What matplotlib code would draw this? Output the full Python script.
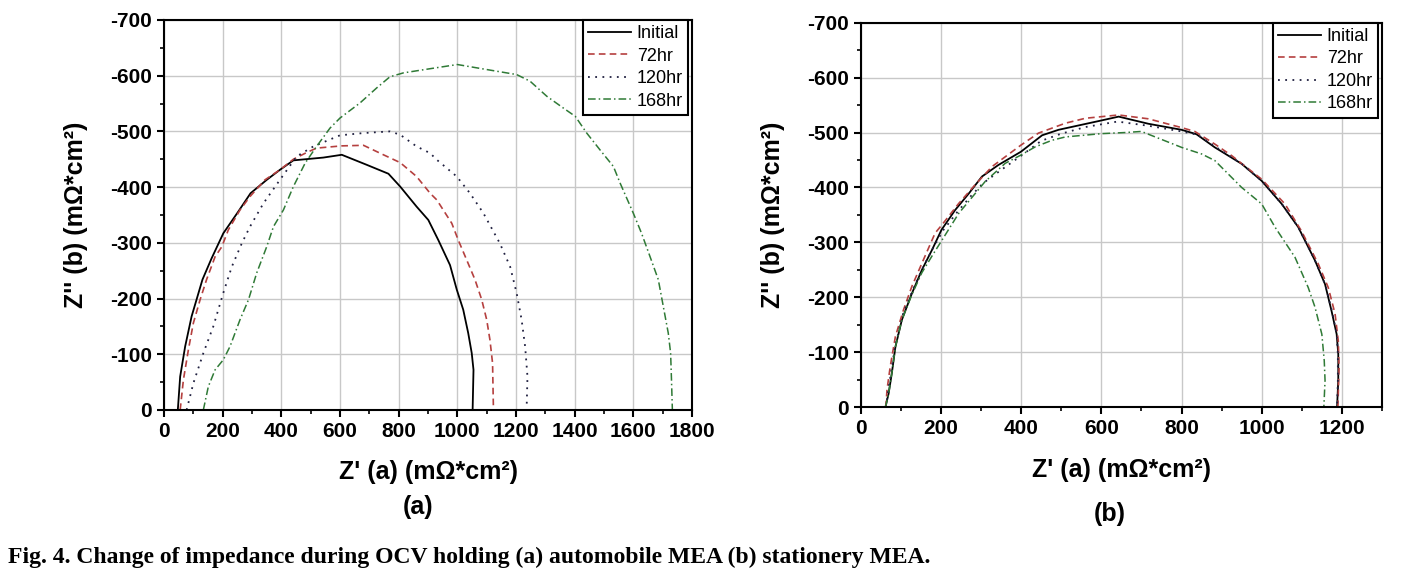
import matplotlib
matplotlib.use("Agg")
import matplotlib.pyplot as plt
from matplotlib.ticker import MultipleLocator

plt.rcParams["font.family"] = ["Liberation Sans", "DejaVu Sans"]
plt.rcParams["axes.unicode_minus"] = False

labels = ["Initial", "72hr", "120hr", "168hr"]

# (a) automobile MEA
a_init_x = [47, 55, 72, 94, 131, 162, 202, 253, 295, 350, 395, 441, 543, 606, 691, 765, 805, 861, 901, 935, 975, 998, 1020, 1037, 1049, 1055, 1052]
a_init_y = [0, -60, -114, -168, -234, -272, -317, -356, -389, -413, -431, -448, -453, -458, -440, -424, -401, -365, -341, -305, -260, -216, -180, -138, -102, -72, 0]
a_72_x = [55, 66, 83, 100, 123, 145, 174, 197, 219, 259, 293, 344, 395, 441, 486, 520, 606, 680, 748, 805, 861, 907, 930, 981, 1003, 1032, 1060, 1083, 1100, 1111, 1120, 1123]
a_72_y = [0, -54, -108, -156, -198, -234, -275, -293, -323, -359, -383, -413, -431, -450, -462, -470, -474, -475, -458, -444, -419, -389, -377, -335, -305, -269, -234, -198, -162, -126, -84, 0]
a_120_x = [77, 100, 134, 168, 202, 231, 265, 293, 339, 395, 452, 509, 600, 680, 770, 805, 861, 907, 930, 998, 1043, 1089, 1145, 1180, 1202, 1219, 1231, 1239, 1236]
a_120_y = [0, -48, -102, -150, -210, -257, -299, -329, -371, -413, -455, -473, -493, -497, -500, -494, -473, -461, -449, -419, -389, -353, -299, -257, -210, -162, -114, -60, 0]
a_168_x = [134, 151, 174, 202, 225, 259, 288, 316, 350, 373, 407, 441, 481, 520, 566, 600, 668, 725, 770, 816, 901, 1000, 1100, 1202, 1248, 1305, 1361, 1402, 1441, 1486, 1532, 1555, 1600, 1628, 1657, 1685, 1702, 1719, 1727, 1730, 1733]
a_168_y = [0, -42, -72, -90, -114, -162, -198, -246, -293, -329, -359, -401, -443, -473, -506, -524, -551, -578, -598, -605, -612, -620, -611, -602, -590, -563, -542, -527, -497, -467, -437, -407, -353, -317, -275, -234, -186, -138, -102, -54, 0]

# (b) stationery MEA
b_init_x = [61, 69, 77, 86, 102, 127, 152, 177, 201, 235, 269, 302, 343, 399, 452, 493, 600, 643, 717, 800, 837, 883, 950, 1000, 1050, 1091, 1133, 1158, 1174, 1187, 1191, 1191, 1188]
b_init_y = [0, -25, -62, -110, -159, -207, -250, -286, -323, -359, -389, -420, -441, -465, -495, -505, -522, -529, -516, -505, -497, -473, -443, -412, -370, -328, -267, -224, -176, -133, -97, -49, 0]
b_72_x = [62, 65, 73, 86, 106, 127, 152, 185, 202, 244, 285, 327, 399, 443, 510, 560, 643, 717, 800, 833, 883, 925, 1000, 1058, 1099, 1141, 1166, 1183, 1191, 1193, 1190]
b_72_y = [0, -32, -74, -129, -177, -220, -262, -317, -332, -371, -405, -438, -477, -499, -517, -526, -532, -525, -509, -502, -479, -458, -415, -370, -321, -261, -218, -170, -121, -73, 0]
b_120_x = [62, 70, 85, 105, 130, 155, 180, 205, 240, 275, 305, 350, 400, 450, 500, 560, 640, 720, 800, 840, 885, 950, 1000, 1050, 1091, 1133, 1158, 1175, 1187, 1190, 1190, 1188]
b_120_y = [0, -40, -110, -170, -215, -255, -290, -322, -355, -385, -408, -432, -458, -485, -498, -510, -520, -512, -502, -496, -474, -443, -412, -370, -328, -267, -224, -176, -133, -97, -49, 0]
b_168_x = [61, 69, 77, 86, 102, 127, 152, 177, 202, 244, 285, 310, 360, 399, 435, 477, 510, 600, 659, 700, 717, 800, 850, 883, 950, 1000, 1033, 1083, 1116, 1133, 1150, 1156, 1158, 1155]
b_168_y = [0, -25, -62, -110, -159, -205, -245, -275, -304, -353, -389, -411, -444, -459, -474, -486, -492, -498, -500, -502, -497, -473, -461, -449, -400, -370, -328, -273, -218, -182, -133, -85, -49, 0]

styles = [
    dict(color="black", linestyle="-", linewidth=1.3),
    dict(color="#b5403f", linestyle=(0, (4, 2.5)), linewidth=1.2),
    dict(color="#202040", linestyle=(0, (1, 3)), linewidth=1.3),
    dict(color="#2f7a36", linestyle=(0, (5, 2, 1, 2)), linewidth=1.1),
]


def setup_axes(ax, xmax):
    ax.set_xlim(0, xmax)
    ax.set_ylim(0, -700)
    ax.xaxis.set_major_locator(MultipleLocator(200))
    ax.xaxis.set_minor_locator(MultipleLocator(100))
    ax.yaxis.set_major_locator(MultipleLocator(100))
    ax.yaxis.set_minor_locator(MultipleLocator(50))
    ax.grid(True, which="major", color="#c8c8c8", linewidth=1.0)
    ax.set_axisbelow(True)
    ax.tick_params(which="major", direction="out", length=5, width=1.5, labelsize=15)
    ax.tick_params(which="minor", direction="out", length=3, width=1.2)
    for lab in ax.get_xticklabels() + ax.get_yticklabels():
        lab.set_fontweight("bold")
    for s in ax.spines.values():
        s.set_linewidth(1.5)
    ax.set_xlabel("Z' (a) (m\u03a9*cm\u00b2)", fontsize=18, fontweight="bold", labelpad=14)
    ax.set_ylabel("Z'' (b) (m\u03a9*cm\u00b2)", fontsize=18, fontweight="bold", labelpad=16)
    ax.legend(loc="upper right", bbox_to_anchor=(0.993, 1.0), borderaxespad=0,
              fontsize=13, frameon=True, fancybox=False, edgecolor="black",
              framealpha=1, handlelength=2.4, handletextpad=0.3,
              labelspacing=0.3, borderpad=0.3)
    ax.get_legend().get_frame().set_linewidth(1.5)


fig = plt.figure(figsize=(14.02, 5.75), dpi=100)

ax1 = fig.add_axes([0.1170, 0.2870, 0.3766, 0.6783])
for x, y, lab, st in zip([a_init_x, a_72_x, a_120_x, a_168_x],
                         [a_init_y, a_72_y, a_120_y, a_168_y], labels, styles):
    ax1.plot(x, y, label=lab, **st)
setup_axes(ax1, 1800)

ax2 = fig.add_axes([0.6141, 0.2917, 0.3716, 0.6689])
for x, y, lab, st in zip([b_init_x, b_72_x, b_120_x, b_168_x],
                         [b_init_y, b_72_y, b_120_y, b_168_y], labels, styles):
    ax2.plot(x, y, label=lab, **st)
setup_axes(ax2, 1300)

fig.text(418 / 1402, 1 - 507 / 575, "(a)", fontsize=18, fontweight="bold", ha="center", va="center")
fig.text(1110 / 1402, 1 - 514 / 575, "(b)", fontsize=18, fontweight="bold", ha="center", va="center")
fig.text(8 / 1402, 1 - 557 / 575,
         "Fig. 4. Change of impedance during OCV holding (a) automobile MEA (b) stationery MEA.",
         fontsize=17, fontweight="bold", family=["Liberation Serif", "DejaVu Serif"],
         ha="left", va="center")

fig.savefig("out.png", dpi=100)
